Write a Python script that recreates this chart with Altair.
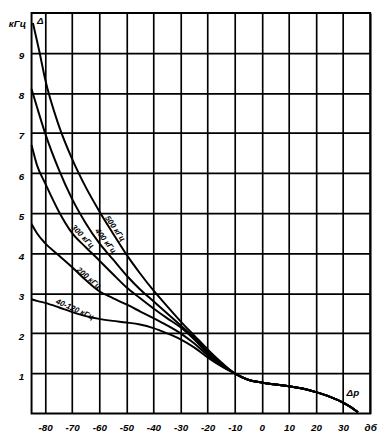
import altair as alt
import pandas as pd

# ---- data ----
x_ticks = [-80, -70, -60, -50, -40, -30, -20, -10, 0, 10, 20, 30, 40]
y_ticks = [1, 2, 3, 4, 5, 6, 7, 8, 9]

series_names = ["500 кГц", "400 кГц", "300 кГц", "200 кГц", "40-120 кГц"]

x500 = [-84.5, -82, -80, -75, -70, -65, -60, -55, -50, -45, -40, -35, -30, -25, -20, -15, -10]
y500 = [9.75, 9.0, 8.35, 7.2, 6.35, 5.65, 5.05, 4.5, 3.97, 3.5, 3.07, 2.68, 2.3, 1.95, 1.6, 1.28, 1.0]

x_common = [-85, -83, -80, -75, -70, -65, -60, -55, -50, -45, -40, -35, -30, -25, -20, -15, -10]
y400 = [8.1, 7.65, 7.0, 6.1, 5.35, 4.75, 4.25, 3.85, 3.45, 3.1, 2.8, 2.5, 2.2, 1.9, 1.55, 1.25, 1.0]
y300 = [6.7, 6.2, 5.75, 5.05, 4.5, 4.15, 3.82, 3.48, 3.15, 2.88, 2.62, 2.38, 2.15, 1.85, 1.5, 1.22, 1.0]
y200 = [4.73, 4.5, 4.25, 3.95, 3.65, 3.33, 3.05, 2.88, 2.72, 2.55, 2.38, 2.2, 2.0, 1.75, 1.45, 1.2, 1.0]
y40 = [2.85, 2.81, 2.76, 2.65, 2.53, 2.43, 2.36, 2.31, 2.27, 2.22, 2.13, 2.0, 1.85, 1.65, 1.4, 1.18, 1.0]

tail_x = [-10, -5, 0, 5, 10, 15, 20, 25, 30, 33, 35.5]
tail_y = [1.0, 0.84, 0.77, 0.72, 0.68, 0.62, 0.53, 0.42, 0.27, 0.15, 0.03]

label_x = [-54.3, -57.8, -66.2, -64.0, -69.1]
label_y = [4.61, 4.30, 4.41, 3.37, 2.59]
label_angle = [55, 52, 47, 40, 24]

note_text = ["Δ", "Δр"]
note_x = [-81.8, 33.6]
note_y = [9.8, 0.51]

# ---- build tables ----
rows = []
curves = [(x500, y500), (x_common, y400), (x_common, y300), (x_common, y200), (x_common, y40)]
for name, (xs, ys) in zip(series_names, curves):
    xx = list(xs) + tail_x[1:]
    yy = list(ys) + tail_y[1:]
    for i, (a, b) in enumerate(zip(xx, yy)):
        rows.append({"series": name, "x": a, "y": b, "order": i})
df = pd.DataFrame(rows)

labels_df = pd.DataFrame({"text": series_names, "x": label_x, "y": label_y, "angle": label_angle})
notes_df = pd.DataFrame({"text": note_text, "x": note_x, "y": note_y})

FONT = "Liberation Sans"

xscale = alt.Scale(domain=[-85, 40], nice=False, zero=False)
yscale = alt.Scale(domain=[0, 10], nice=False, zero=False)

xaxis = alt.Axis(values=x_ticks, grid=True, gridColor="black", gridWidth=1.7, gridOpacity=1,
                 ticks=False, domain=False, title=None, labelFlush=False, labelOverlap=False,
                 labelExpr="datum.value == 40 ? 'дб' : '' + datum.value",
                 labelFont=FONT, labelFontSize=10, labelFontStyle="italic", labelFontWeight="bold",
                 labelColor="black", labelPadding=9)
yaxis = alt.Axis(values=y_ticks, grid=True, gridColor="black", gridWidth=1.7, gridOpacity=1,
                 ticks=False, domain=False, labelFlush=False, labelOverlap=False,
                 labelFont=FONT, labelFontSize=10, labelFontStyle="italic", labelFontWeight="bold",
                 labelColor="black", labelPadding=8, labelOffset=3,
                 title="кГц", titleAngle=0, titleX=-15, titleY=11, titleAlign="center",
                 titleBaseline="middle", titleFont=FONT, titleFontSize=10, titleFontStyle="italic",
                 titleFontWeight="bold", titleColor="black")

X = alt.X("x:Q", scale=xscale, axis=xaxis)
Y = alt.Y("y:Q", scale=yscale, axis=yaxis)

lines = alt.Chart(df).mark_line(color="black", strokeWidth=2, interpolate="monotone").encode(
    x=X, y=Y,
    detail="series:N",
    order="order:Q",
)

labels = alt.Chart(labels_df).mark_text(font=FONT, fontSize=8, fontStyle="italic", fontWeight="bold",
                                         color="black", align="center", baseline="middle").encode(
    x=X, y=Y,
    text="text:N",
    angle=alt.Angle("angle:Q", scale=None),
)

notes = alt.Chart(notes_df).mark_text(font=FONT, fontSize=10, fontStyle="italic", fontWeight="bold",
                                       color="black", align="center", baseline="middle").encode(
    x=X, y=Y,
    text="text:N",
)

chart = alt.layer(lines, labels, notes).properties(
    width=345, height=408,
    autosize="none",
    padding={"left": 24, "top": 1, "right": 9, "bottom": 20},
    background="white",
).configure_view(stroke="black", strokeWidth=2)

chart.save("out.html", embed_options={"renderer": "svg", "actions": False})
